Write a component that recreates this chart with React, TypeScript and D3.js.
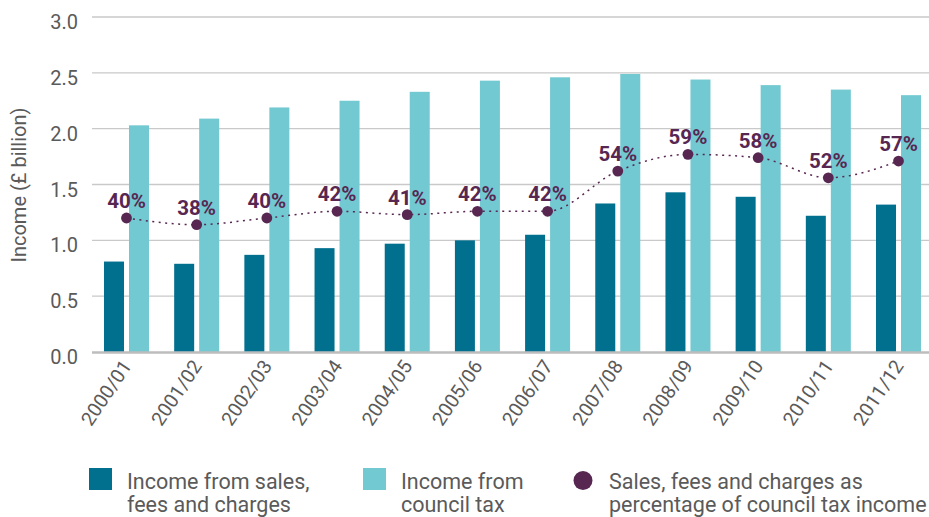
import React from "react";
import * as d3 from "d3";

const years = ["2000/01","2001/02","2002/03","2003/04","2004/05","2005/06","2006/07","2007/08","2008/09","2009/10","2010/11","2011/12"];
const salesFees = [0.81, 0.79, 0.87, 0.93, 0.97, 1.0, 1.05, 1.33, 1.43, 1.39, 1.22, 1.32];
const councilTax = [2.03, 2.09, 2.19, 2.25, 2.33, 2.43, 2.46, 2.49, 2.44, 2.39, 2.35, 2.30];
const percentages = [40, 38, 40, 42, 41, 42, 42, 54, 59, 58, 52, 57];
const yTicks = [0, 0.5, 1.0, 1.5, 2.0, 2.5, 3.0];

const W = 929, H = 517;
const DARK = "#00708e";
const LIGHT = "#72c9d1";
const PURPLE = "#572752";
const TEXT = "#5a5a5a";
const FONT = "Roboto, 'Noto Sans', sans-serif";

export default function App() {
  const y = d3.scaleLinear().domain([0, 3]).range([352, 17]);
  const x = d3.scaleBand<string>().domain(years).range([91.4, 933.6]);
  const sub = d3.scaleBand<string>().domain(["sales", "tax"]).range([-22.5, 22.5]).paddingInner(0.2);
  const cx = (yr: string) => (x(yr) as number) + x.bandwidth() / 2;
  // percentage drawn on secondary axis: 100% == 3.0 on primary
  const yp = (p: number) => y((p / 100) * 3);
  const line = d3.line<number>()
    .x((_, i) => cx(years[i]))
    .y((p) => yp(p))
    .curve(d3.curveMonotoneX);

  return (
    <div style={{ position: "absolute", left: 0, top: 0 }}>
      <svg width={W} height={H} style={{ display: "block", fontFamily: FONT }}>
        <rect width={W} height={H} fill="#fff" />
        {yTicks.filter((t) => t !== 0).map((t) => (
          <line key={t} x1={92} x2={929} y1={y(t)} y2={y(t)} stroke="#c9c9c9" strokeWidth={1.4} />
        ))}
        {yTicks.map((t) => (
          <text key={"l" + t} x={78} y={y(t) + 12} textAnchor="end" fontSize={20} fill={TEXT}>
            {t.toFixed(1)}
          </text>
        ))}
        <text transform={`translate(26,185) rotate(-90)`} textAnchor="middle" fontSize={20} fill={TEXT}>
          Income (£ billion)
        </text>
        {years.map((yr, i) => (
          <g key={yr}>
            <rect x={cx(yr) + (sub("sales") as number)} y={y(salesFees[i])} width={sub.bandwidth()} height={y(0) - y(salesFees[i])} fill={DARK} />
            <rect x={cx(yr) + (sub("tax") as number)} y={y(councilTax[i])} width={sub.bandwidth()} height={y(0) - y(councilTax[i])} fill={LIGHT} />
          </g>
        ))}
        <line x1={92} x2={929} y1={352.5} y2={352.5} stroke="#bdbdbd" strokeWidth={2.6} />
        {years.map((yr) => (
          <text key={"x" + yr} transform={`translate(${cx(yr) + 6},${366}) rotate(-56)`} textAnchor="end" fontSize={19.5} fill={TEXT}>
            {yr}
          </text>
        ))}
        <path d={line(percentages) as string} fill="none" stroke={PURPLE} strokeWidth={1.5} strokeDasharray="2 4.5" />
        {percentages.map((p, i) => (
          <g key={"p" + i}>
            <circle cx={cx(years[i])} cy={yp(p)} r={5.4} fill={PURPLE} />
            <text x={cx(years[i])} y={yp(p) - 10} textAnchor="middle" fontSize={20.5} fontWeight={700} fill={PURPLE}>
              {p}%
            </text>
          </g>
        ))}
        {/* legend */}
        <rect x={89} y={468} width={23} height={22} fill={DARK} />
        <text x={127} y={489} fontSize={21.5} fill={TEXT}>
          <tspan x={127}>Income from sales,</tspan>
          <tspan x={127} dy={23}>fees and charges</tspan>
        </text>
        <rect x={363} y={468} width={23} height={22} fill={LIGHT} />
        <text x={401} y={489} fontSize={21.5} fill={TEXT}>
          <tspan x={401}>Income from</tspan>
          <tspan x={401} dy={23}>council tax</tspan>
        </text>
        <circle cx={583} cy={480.5} r={9.5} fill={PURPLE} />
        <text x={609} y={489} fontSize={21.5} fill={TEXT}>
          <tspan x={609}>Sales, fees and charges as</tspan>
          <tspan x={609} dy={23}>percentage of council tax income</tspan>
        </text>
      </svg>
    </div>
  );
}
